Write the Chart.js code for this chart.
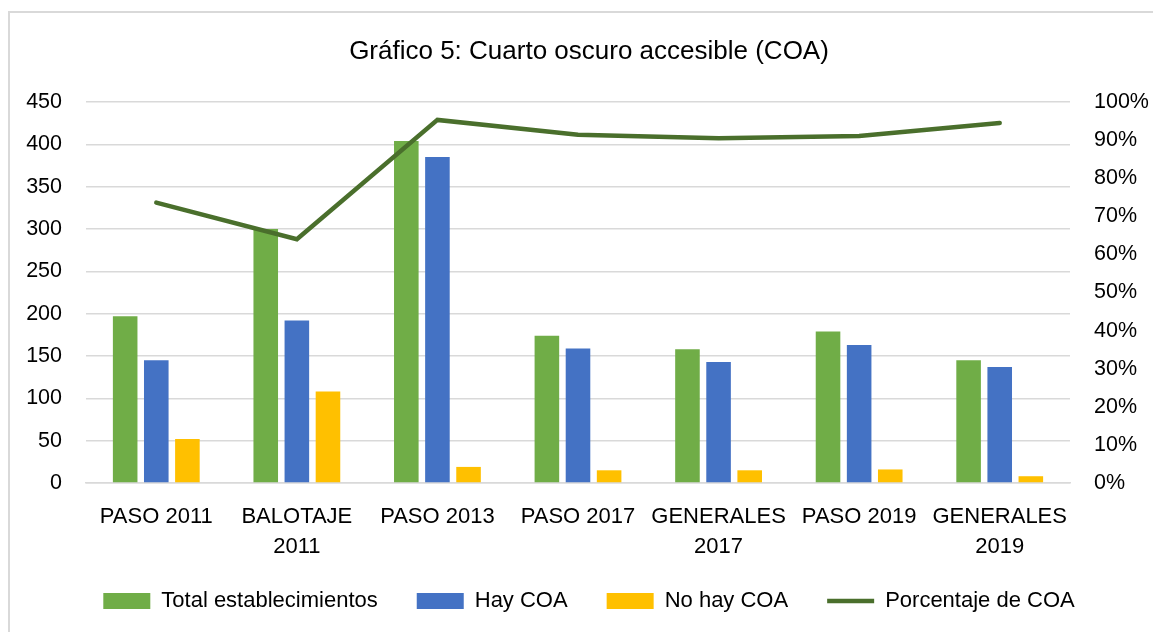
<!DOCTYPE html>
<html>
<head>
<meta charset="utf-8">
<script src="https://cdn.jsdelivr.net/npm/chart.js@4/dist/chart.umd.min.js"></script>
<style>
  html, body { margin: 0; padding: 0; background: #fff; overflow: hidden; }
  #wrap { position: relative; width: 1153px; height: 632px; }
  #frame { position: absolute; left: 8px; top: 11px; width: 1160px; height: 640px;
           border-left: 2px solid #D9D9D9; border-top: 2px solid #D9D9D9; box-sizing: border-box; }
  canvas { position: absolute; left: 0; top: 0; }
</style>
</head>
<body>
<div id="wrap">
  <div id="frame"></div>
  <canvas id="c" width="1153" height="632"></canvas>
</div>
<script>
const categories = [["PASO 2011"], ["BALOTAJE", "2011"], ["PASO 2013"], ["PASO 2017"], ["GENERALES", "2017"], ["PASO 2019"], ["GENERALES", "2019"]];
const totalEstablecimientos = [197, 300, 404, 174, 158, 179, 145];
const hayCOA = [145, 192, 385, 159, 143, 163, 137];
const noHayCOA = [52, 108, 19, 15, 15, 16, 8];
const porcentajeCOA = [73.6, 64.0, 95.3, 91.4, 90.5, 91.1, 94.5];
const leftTicks = [0, 50, 100, 150, 200, 250, 300, 350, 400, 450];
const rightTicks = [0, 10, 20, 30, 40, 50, 60, 70, 80, 90, 100];

const FONT = "'Liberation Sans', Arial, sans-serif";
const GRID = '#D9D9D9';

function unclipLabels(s) {
  s._computeLabelArea = function () {
    return { top: 0, left: 0, bottom: this.chart.height, right: this.chart.width };
  };
}

new Chart(document.getElementById('c'), {
  data: {
    labels: categories,
    datasets: [
      { type: 'bar', label: 'Total establecimientos', data: totalEstablecimientos,
        backgroundColor: '#70AD47', yAxisID: 'y', order: 1, pointStyle: 'rect',
        categoryPercentage: 0.664, barPercentage: 0.79 },
      { type: 'bar', label: 'Hay COA', data: hayCOA,
        backgroundColor: '#4472C4', yAxisID: 'y', order: 1, pointStyle: 'rect',
        categoryPercentage: 0.664, barPercentage: 0.79 },
      { type: 'bar', label: 'No hay COA', data: noHayCOA,
        backgroundColor: '#FFC000', yAxisID: 'y', order: 1, pointStyle: 'rect',
        categoryPercentage: 0.664, barPercentage: 0.79 },
      { type: 'line', label: 'Porcentaje de COA', data: porcentajeCOA,
        borderColor: '#4A6F2C', backgroundColor: '#4A6F2C', borderWidth: 4.5,
        pointRadius: 0, pointStyle: 'line', tension: 0, yAxisID: 'y1', order: 0,
        borderCapStyle: 'round', borderJoinStyle: 'miter' }
    ]
  },
  options: {
    responsive: false,
    animation: false,
    events: [],
    layout: { padding: { left: 25, right: 0, top: 0, bottom: 10 } },
    plugins: {
      tooltip: { enabled: false },
      title: {
        display: true,
        text: 'Gráfico 5: Cuarto oscuro accesible (COA)',
        color: '#000',
        font: { family: FONT, size: 26, weight: 'normal', lineHeight: 1.2 },
        padding: { top: 36, bottom: 34.8 }
      },
      legend: {
        position: 'bottom',
        labels: {
          color: '#000',
          font: { family: FONT, size: 22 },
          usePointStyle: true,
          pointStyleWidth: 47,
          boxHeight: 16,
          padding: 39,
          sort: (a, b) => a.datasetIndex - b.datasetIndex
        }
      }
    },
    scales: {
      x: {
        grid: { display: false, drawTicks: false },
        border: { display: true, color: GRID, width: 1.5 },
        ticks: { color: '#000', font: { family: FONT, size: 22, lineHeight: 30 / 22 },
                 padding: 19, maxRotation: 0, autoSkip: false },
        afterFit: s => { s.height = 68; unclipLabels(s); }
      },
      y: {
        position: 'left',
        min: 0, max: 450,
        afterBuildTicks: s => { s.ticks = leftTicks.map(v => ({ value: v })); },
        grid: { color: GRID, lineWidth: 1.5, drawTicks: false },
        border: { display: false },
        ticks: { color: '#000', font: { family: FONT, size: 21.5 }, padding: 24 },
        afterFit: s => { s.width = 61; }
      },
      y1: {
        position: 'right',
        min: 0, max: 100,
        afterBuildTicks: s => { s.ticks = rightTicks.map(v => ({ value: v })); },
        grid: { display: false, drawTicks: false },
        border: { display: false },
        ticks: { color: '#000', font: { family: FONT, size: 21.5 }, padding: 24,
                 callback: v => v + '%' },
        afterFit: s => { s.width = 83; }
      }
    }
  }
});
</script>
</body>
</html>
